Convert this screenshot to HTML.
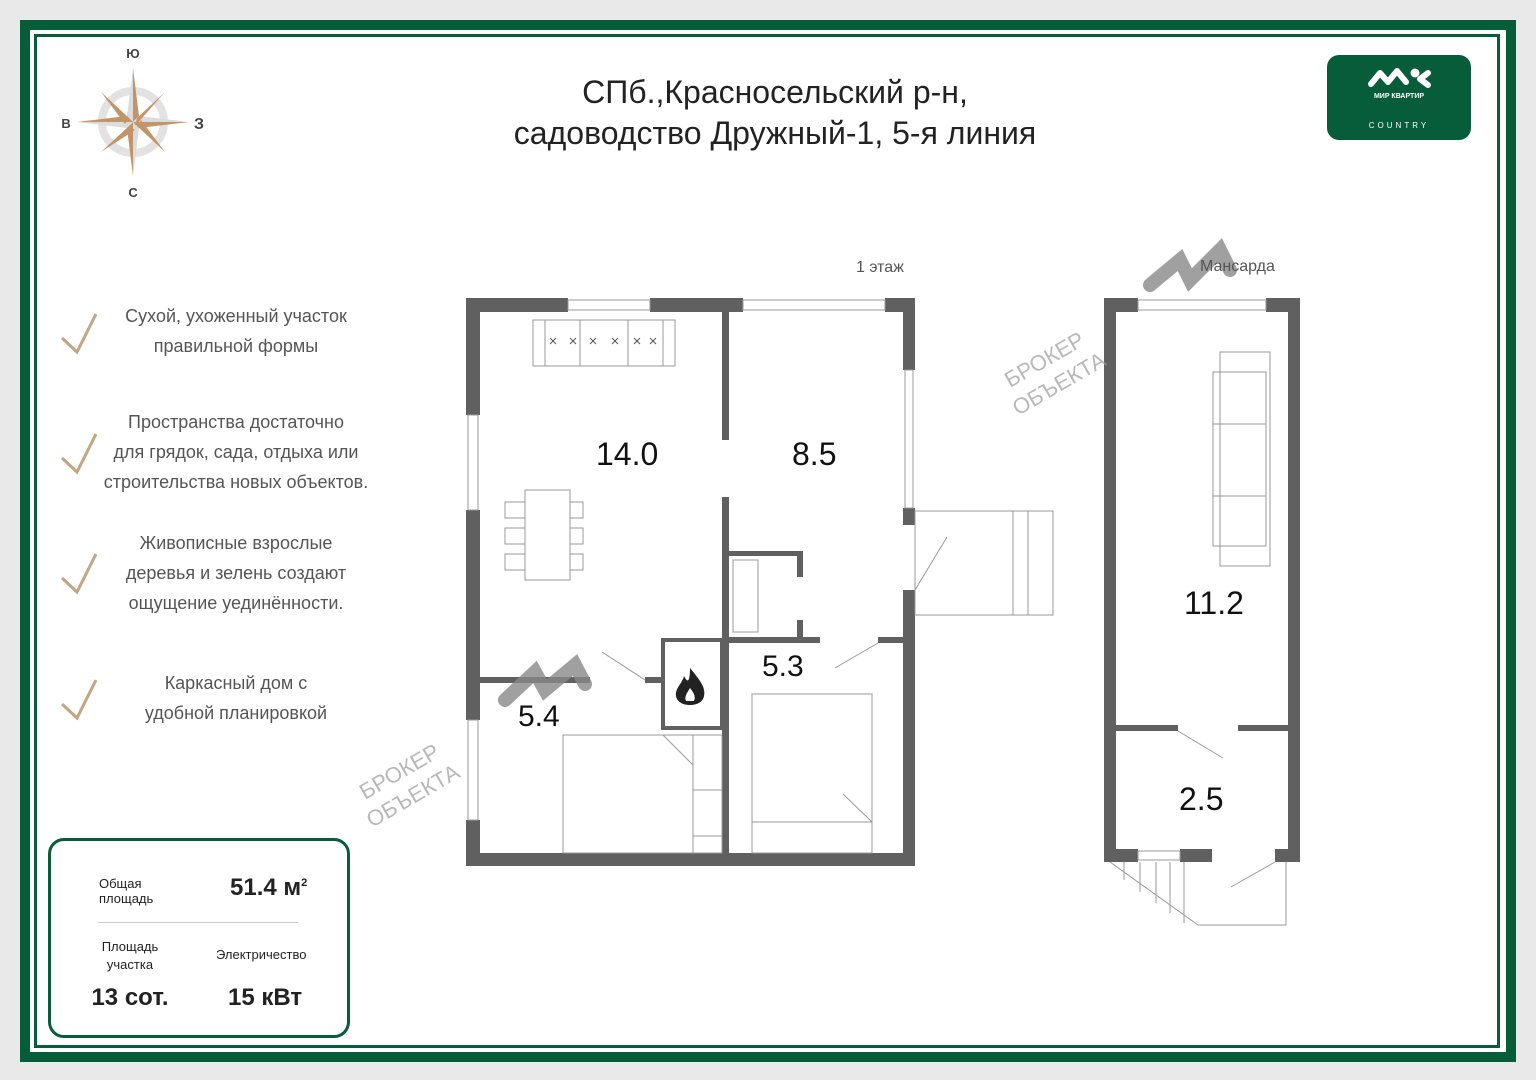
<!DOCTYPE html>
<html><head><meta charset="utf-8"><style>
body{margin:0;width:1536px;height:1080px;background:#e9e9e9;font-family:"Liberation Sans",sans-serif;position:relative;overflow:hidden}
.a{position:absolute}
.t{position:absolute;color:#555;font-size:18px;text-align:center;line-height:30px;width:320px;left:76px}
</style></head><body>
<div class="a" style="left:20px;top:20px;width:1496px;height:1042px;background:#075c3a"></div>
<div class="a" style="left:30px;top:30px;width:1476px;height:1022px;background:#fff"></div>
<div class="a" style="left:34px;top:34px;width:1466px;height:1014px;border:3px solid #075c3a;box-sizing:border-box"></div>

<svg class="a" style="left:0;top:0" width="1536" height="1080">
<g transform="translate(133,122)">
<circle r="31" fill="none" stroke="#e2e2e2" stroke-width="8"/>
<polygon points="0,-54 6,-6 0,0" fill="#c3946a"/><polygon points="0,-54 -6,-6 0,0" fill="#dcdcdc"/>
<polygon points="0,54 -6,6 0,0" fill="#c3946a"/><polygon points="0,54 6,6 0,0" fill="#dcdcdc"/>
<polygon points="-56,0 -6,-6 0,0" fill="#c3946a"/><polygon points="-56,0 -6,6 0,0" fill="#dcdcdc"/>
<polygon points="56,0 6,6 0,0" fill="#c3946a"/><polygon points="56,0 6,-6 0,0" fill="#dcdcdc"/>
<polygon points="-32,-30 -4,-4 -8,2" fill="#c3946a"/><polygon points="32,-30 4,-4 2,4" fill="#c3946a"/>
<polygon points="-32,30 -4,4 2,8" fill="#c3946a"/><polygon points="32,30 4,4 8,-2" fill="#c3946a"/>
<text x="0" y="-64" text-anchor="middle" font-size="13" font-weight="bold" fill="#444">Ю</text>
<text x="0" y="75" text-anchor="middle" font-size="13" font-weight="bold" fill="#444">С</text>
<text x="-67" y="6" text-anchor="middle" font-size="13" font-weight="bold" fill="#444">В</text>
<text x="66" y="7" text-anchor="middle" font-size="16" font-weight="bold" fill="#444">З</text>
</g>
<g stroke="#c3a483" stroke-width="3" fill="none">
<polyline points="62,338 77,352 96,314"/><polyline points="62,458 77,472 96,434"/>
<polyline points="62,578 77,592 96,554"/><polyline points="62,704 77,718 96,680"/>
</g>
<g fill="#606060">
<rect x="466" y="298" width="102" height="14"/><rect x="650" y="298" width="93" height="14"/><rect x="885" y="298" width="30" height="14"/>
<rect x="466" y="298" width="14" height="117"/><rect x="466" y="510" width="14" height="210"/><rect x="466" y="820" width="14" height="46"/>
<rect x="903" y="298" width="12" height="72"/><rect x="903" y="508" width="12" height="17"/><rect x="903" y="590" width="12" height="276"/>
<rect x="466" y="853" width="449" height="13"/>
<rect x="722" y="312" width="7" height="128"/><rect x="722" y="497" width="7" height="356"/>
<rect x="480" y="677" width="110" height="6"/><rect x="645" y="677" width="18" height="6"/>
<rect x="722" y="637" width="98" height="6"/><rect x="878" y="637" width="30" height="6"/>
<rect x="729" y="551" width="74" height="5"/><rect x="797" y="551" width="6" height="26"/><rect x="797" y="620" width="6" height="17"/>
<rect x="663" y="640" width="59" height="88" fill="none" stroke="#606060" stroke-width="4"/>
</g>
<g fill="none" stroke="#999" stroke-width="1">
<rect x="568" y="300" width="82" height="10"/><rect x="743" y="300" width="142" height="10"/>
<rect x="468" y="415" width="10" height="95"/><rect x="468" y="720" width="10" height="100"/>
<rect x="905" y="370" width="8" height="138"/>
<rect x="915" y="511" width="138" height="104"/><line x1="1013" y1="511" x2="1013" y2="615"/><line x1="1028" y1="511" x2="1028" y2="615"/>
<line x1="915" y1="590" x2="947" y2="537"/>
<line x1="602" y1="652" x2="645" y2="680"/><line x1="835" y1="668" x2="878" y2="643"/>
<rect x="533" y="320" width="142" height="46"/><rect x="545" y="320" width="118" height="46"/>
<line x1="580" y1="320" x2="580" y2="366"/><line x1="628" y1="320" x2="628" y2="366"/>
<rect x="525" y="490" width="45" height="90"/>
<rect x="505" y="502" width="20" height="16"/><rect x="505" y="528" width="20" height="16"/><rect x="505" y="554" width="20" height="16"/>
<rect x="570" y="502" width="13" height="16"/><rect x="570" y="528" width="13" height="16"/><rect x="570" y="554" width="13" height="16"/>
<rect x="563" y="735" width="130" height="118"/><rect x="693" y="735" width="29" height="118"/><line x1="663" y1="735" x2="693" y2="765"/>
<line x1="693" y1="790" x2="722" y2="790"/><line x1="693" y1="836" x2="722" y2="836"/>
<rect x="752" y="694" width="120" height="159"/><line x1="752" y1="822" x2="872" y2="822"/><line x1="843" y1="794" x2="872" y2="822"/>
<rect x="733" y="560" width="25" height="72"/>
</g>
<g stroke="#555" stroke-width="1">
<line x1="550" y1="338" x2="556" y2="344"/><line x1="556" y1="338" x2="550" y2="344"/>
<line x1="570" y1="338" x2="576" y2="344"/><line x1="576" y1="338" x2="570" y2="344"/>
<line x1="590" y1="338" x2="596" y2="344"/><line x1="596" y1="338" x2="590" y2="344"/>
<line x1="612" y1="338" x2="618" y2="344"/><line x1="618" y1="338" x2="612" y2="344"/>
<line x1="634" y1="338" x2="640" y2="344"/><line x1="640" y1="338" x2="634" y2="344"/>
<line x1="650" y1="338" x2="656" y2="344"/><line x1="656" y1="338" x2="650" y2="344"/>
</g>
<path d="M690 668 C700 680 706 688 704 696 C703 702 697 705 690 705 C683 705 677 702 676 696 C675 688 682 684 684 676 C687 682 690 684 690 668 Z" fill="#222"/>
<path d="M690 688 C694 693 696 697 694 701 L686 701 C684 697 687 693 690 688Z" fill="#fff"/>
<g fill="#606060">
<rect x="1104" y="298" width="34" height="14"/><rect x="1266" y="298" width="34" height="14"/>
<rect x="1104" y="298" width="12" height="564"/><rect x="1288" y="298" width="12" height="564"/>
<rect x="1104" y="849" width="34" height="13"/><rect x="1180" y="849" width="32" height="13"/><rect x="1275" y="849" width="25" height="13"/>
<rect x="1116" y="725" width="62" height="6"/><rect x="1238" y="725" width="50" height="6"/>
</g>
<g fill="none" stroke="#999" stroke-width="1">
<rect x="1138" y="300" width="128" height="10"/><rect x="1138" y="851" width="42" height="9"/>
<rect x="1220" y="352" width="50" height="214"/><rect x="1213" y="372" width="53" height="52"/><rect x="1213" y="424" width="53" height="72"/><rect x="1213" y="496" width="53" height="50"/>
<line x1="1178" y1="731" x2="1223" y2="758"/><line x1="1231" y1="887" x2="1275" y2="862"/>
<polyline points="1110,862 1198,925 1286,925 1286,862"/>
<line x1="1124" y1="862" x2="1124" y2="880"/><line x1="1140" y1="862" x2="1140" y2="892"/><line x1="1156" y1="862" x2="1156" y2="903"/><line x1="1170" y1="862" x2="1170" y2="913"/><line x1="1184" y1="862" x2="1184" y2="923"/>
</g>
<g fill="#9a9a9a" opacity="0.7">
<text transform="translate(365,800) rotate(-30)" font-size="22">БРОКЕР</text>
<text transform="translate(372,828) rotate(-30)" font-size="22">ОБЪЕКТА</text>
<text transform="translate(1010,388) rotate(-30)" font-size="22">БРОКЕР</text>
<text transform="translate(1018,416) rotate(-30)" font-size="22">ОБЪЕКТА</text>
</g>
<g stroke="#888" stroke-width="14" fill="none" opacity="0.8" stroke-linecap="round">
<polyline points="1150,285 1180,260 1190,280 1220,250 1230,270"/><polyline points="505,700 535,672 545,690 575,665 585,684"/>
</g>
</svg>

<div class="a" style="left:440px;top:72px;width:670px;text-align:center;font-size:32px;line-height:41px;color:#222">СПб.,Красносельский р-н,<br>садоводство Дружный-1, 5-я линия</div>
<div class="a" style="left:1327px;top:55px;width:144px;height:85px;background:#075c3a;border-radius:12px;color:#fff;text-align:center">
<svg width="144" height="34" style="display:block"><g transform="translate(41,12)" fill="none" stroke="#fff" stroke-width="6" stroke-linecap="round" stroke-linejoin="round">
<polyline points="3,17 12,6 20,15 29,4 38,15"/><polyline points="60,6 52,12 60,18"/><circle cx="47" cy="6" r="1.5" fill="#fff"/></g></svg>
<div style="font-size:7px;font-weight:bold;margin-top:4px">МИР КВАРТИР</div>
<div style="font-size:8px;letter-spacing:3px;margin-top:21px">COUNTRY</div></div>

<div class="t" style="top:301px">Сухой, ухоженный участок<br>правильной формы</div>
<div class="t" style="top:407px">Пространства достаточно<br>для грядок, сада, отдыха или<br>строительства новых объектов.</div>
<div class="t" style="top:528px">Живописные взрослые<br>деревья и зелень создают<br>ощущение уединённости.</div>
<div class="t" style="top:668px">Каркасный дом с<br>удобной планировкой</div>

<div class="a" style="left:856px;top:259px;font-size:16px;color:#555">1 этаж</div>
<div class="a" style="left:1200px;top:258px;font-size:16px;color:#555">Мансарда</div>
<div class="a" style="left:596px;top:436px;font-size:32px;color:#111">14.0</div>
<div class="a" style="left:792px;top:436px;font-size:32px;color:#111">8.5</div>
<div class="a" style="left:762px;top:650px;font-size:30px;color:#111">5.3</div>
<div class="a" style="left:518px;top:700px;font-size:30px;color:#111">5.4</div>
<div class="a" style="left:1184px;top:585px;font-size:32px;color:#111">11.2</div>
<div class="a" style="left:1179px;top:781px;font-size:32px;color:#111">2.5</div>

<div class="a" style="left:48px;top:838px;width:302px;height:200px;border:3px solid #075c3a;border-radius:16px;box-sizing:border-box;background:#fff"></div>
<div class="a" style="left:99px;top:876px;font-size:13px;line-height:15px;color:#222">Общая<br>площадь</div>
<div class="a" style="left:230px;top:874px;font-size:24px;font-weight:bold;color:#222">51.4 м<sup style="font-size:11px">2</sup></div>
<div class="a" style="left:98px;top:922px;width:200px;border-top:1px solid #ccc"></div>
<div class="a" style="left:80px;top:938px;width:100px;text-align:center;font-size:13px;line-height:18px;color:#222">Площадь<br>участка</div>
<div class="a" style="left:216px;top:947px;font-size:13px;color:#222">Электричество</div>
<div class="a" style="left:80px;top:984px;width:100px;text-align:center;font-size:24px;font-weight:bold;color:#222">13 сот.</div>
<div class="a" style="left:228px;top:984px;font-size:24px;font-weight:bold;color:#222">15 кВт</div>
</body></html>
